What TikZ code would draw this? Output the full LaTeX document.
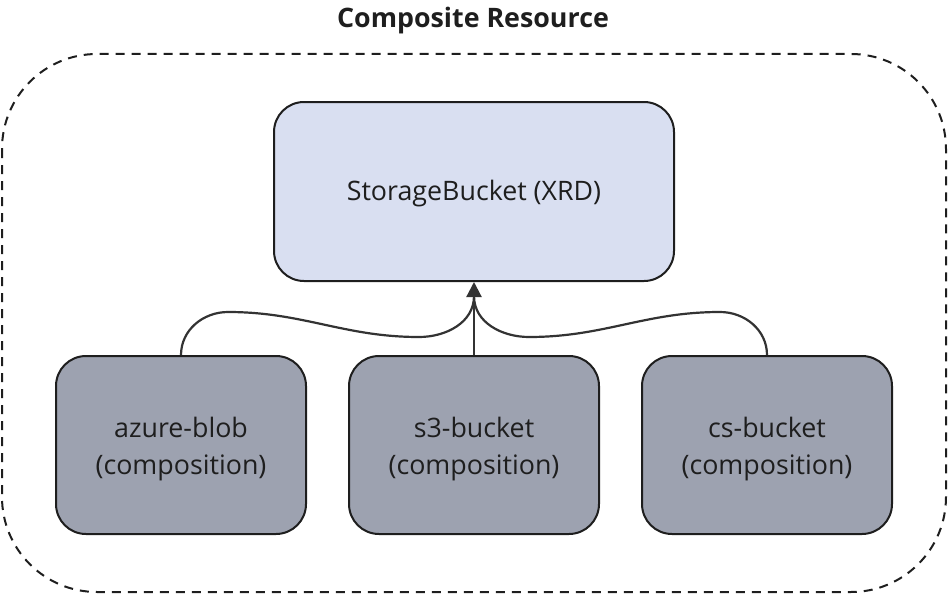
\documentclass[tikz,border=0pt]{standalone}
\usepackage{fontspec}
\setmainfont{Open Sans}
\usetikzlibrary{arrows.meta}
\definecolor{xrdfill}{HTML}{D9DFF1}
\definecolor{compfill}{HTML}{9DA2B0}
\definecolor{edge}{HTML}{1E1E1E}
\definecolor{conn}{HTML}{333333}
\tikzset{
  boxstyle/.style={draw=edge, line width=2pt, rounded corners=30pt, inner sep=0pt},
  boxtext/.style={align=center, font=\fontsize{26.8}{37}\selectfont, text=edge, inner sep=0pt},
  xrd/.style={boxstyle, fill=xrdfill, minimum width=400pt, minimum height=179pt},
  comp/.style={boxstyle, fill=compfill, minimum width=250pt, minimum height=178pt},
  connector/.style={draw=conn, line width=2.2pt},
  outer/.style={draw=edge, line width=2pt, dash pattern=on 9pt off 7pt, rounded corners=95pt}
}
\begin{document}
\begin{tikzpicture}[x=1pt,y=-1pt]
\useasboundingbox (0,0) rectangle (948,594);
\draw[outer] (2,54) rectangle (946,592);
\node[font=\fontsize{26.8}{30}\selectfont\bfseries, text=edge] (title) at (473,21) {Composite Resource};
\node[xrd, label={[boxtext, yshift=-2pt]center:StorageBucket (XRD)}] (xrd) at (474,191.5) {};
\node[comp, label={[boxtext, yshift=-4pt]center:azure-blob\\(composition)}] (azure) at (181,445) {};
\node[comp, label={[boxtext, yshift=-4pt]center:s3-bucket\\(composition)}] (s3) at (474,445) {};
\node[comp, label={[boxtext, yshift=-4pt]center:cs-bucket\\(composition)}] (cs) at (767,445) {};
\path (474,296) coordinate (join);
\draw[connector, -{Triangle[width=15pt,length=15pt]}] (s3.north) -- (xrd.south);
\draw[connector] (azure.north) to[out=90,in=180] (228,312) to[out=0,in=180] (419,337) to[out=0,in=-90] (join);
\draw[connector] (cs.north) to[out=90,in=0] (720,312) to[out=180,in=0] (529,337) to[out=180,in=-90] (join);
\end{tikzpicture}
\end{document}
